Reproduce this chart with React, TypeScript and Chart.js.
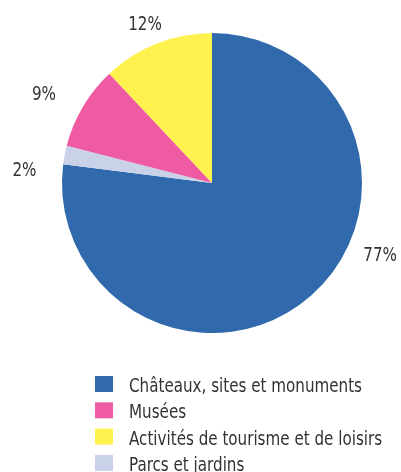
import { useEffect, useRef } from "react";
import { Chart, registerables } from "chart.js";
Chart.register(...registerables);

// Data (slice order = clockwise from 12 o'clock)
const categories = [
  "Châteaux, sites et monuments",
  "Parcs et jardins",
  "Musées",
  "Activités de tourisme et de loisirs",
];
const values = [77, 2, 9, 12];
const valueLabels = ["77%", "2%", "9%", "12%"];
const colors = ["#316aac", "#c9d2e8", "#ee5ba2", "#fff24e"];
// legend shows categories in this order
const legendOrder = [0, 2, 3, 1];
// label placement (degrees, canvas convention) and distance from centre
const labelAngles = [23.3, -176.3, -152.2, -112.9];
const labelRadii = [183, 188, 190, 172];

const FONT = "'DejaVu Sans Condensed', 'DejaVu Sans', sans-serif";
const TEXT = "#333333";
const REF_TEXT_WIDTH = 233; // width of first legend entry in reference

function setFont(ctx: any) {
  ctx.font = `20px ${FONT}`;
  try {
    ctx.fontStretch = "condensed";
  } catch (e) {}
}

function drawText(ctx: any, s: string, x: number, y: number, sx: number, align: string) {
  ctx.save();
  ctx.translate(x, y);
  ctx.scale(sx, 1);
  ctx.textAlign = align;
  ctx.fillText(s, 0, 0);
  ctx.restore();
}

const labelPlugin = {
  id: "outerLabels",
  afterDraw(chart: any) {
    const ctx = chart.ctx;
    const meta = chart.getDatasetMeta(0);
    ctx.save();
    setFont(ctx);
    const sx = REF_TEXT_WIDTH / ctx.measureText(categories[0]).width;
    ctx.fillStyle = TEXT;
    ctx.textBaseline = "middle";
    meta.data.forEach((arc: any, i: number) => {
      const a = (labelAngles[i] * Math.PI) / 180;
      const r = labelRadii[i];
      drawText(ctx, valueLabels[i], arc.x + r * Math.cos(a), arc.y + r * Math.sin(a), sx, "center");
    });
    // legend
    const boxX = 95;
    const textX = 129;
    ctx.textBaseline = "alphabetic";
    legendOrder.forEach((idx, row) => {
      const top = 376 + row * 26.3;
      ctx.fillStyle = colors[idx];
      ctx.fillRect(boxX, top, 18, 16);
      ctx.fillStyle = TEXT;
      drawText(ctx, categories[idx], textX, top + 16, sx, "left");
    });
    ctx.restore();
  },
};

export default function App() {
  const ref = useRef<HTMLCanvasElement | null>(null);
  useEffect(() => {
    if (!ref.current) return;
    const chart = new Chart(ref.current, {
      type: "pie",
      data: {
        labels: categories,
        datasets: [
          {
            data: values,
            backgroundColor: colors,
            borderWidth: 0,
          },
        ],
      },
      options: {
        responsive: false,
        animation: false,
        layout: { padding: { left: 62, right: 39, top: 33, bottom: 139 } },
        plugins: {
          legend: { display: false },
          tooltip: { enabled: false },
        },
      },
      plugins: [labelPlugin],
    });
    return () => chart.destroy();
  }, []);
  return (
    <div style={{ position: "fixed", left: 0, top: 0, width: 401, height: 472, background: "#fff" }}>
      <canvas ref={ref} width={401} height={472} style={{ display: "block", width: 401, height: 472 }} />
    </div>
  );
}
